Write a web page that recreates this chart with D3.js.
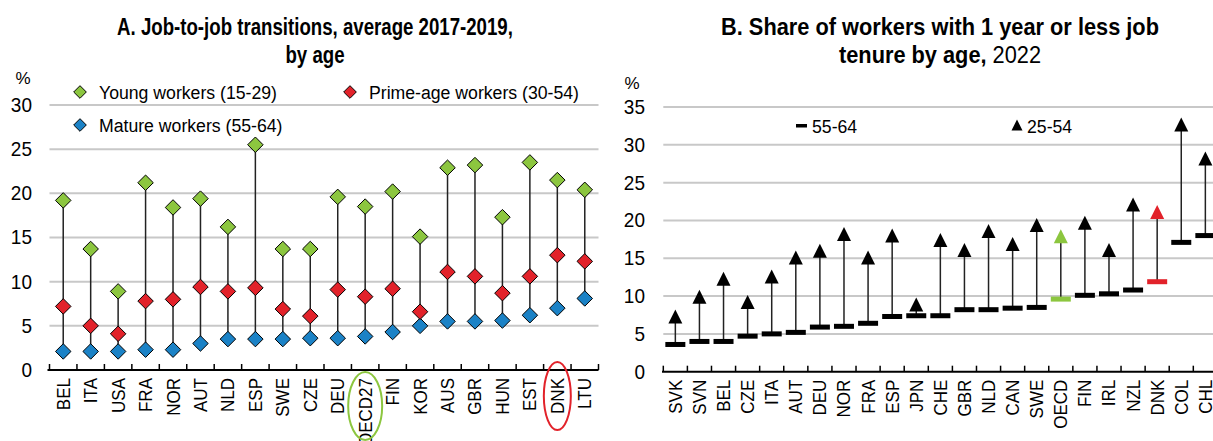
<!DOCTYPE html>
<html lang="en">
<head>
<meta charset="utf-8">
<script src="https://d3js.org/d3.v7.min.js"></script>
<style>
  body { margin: 0; background: #fff; }
  svg text { font-family: "Liberation Sans", Arial, sans-serif; fill: #000; }
</style>
</head>
<body>
<div id="chart"></div>
<script>

// Panel A: job-to-job transitions by age (%)
const catsA = ["BEL","ITA","USA","FRA","NOR","AUT","NLD","ESP","SWE","CZE","DEU","OECD27","FIN","KOR","AUS","GBR","HUN","EST","DNK","LTU"];
const youngA  = [19.2,13.7,8.9,21.2,18.4,19.4,16.2,25.5,13.7,13.7,19.6,18.5,20.2,15.1,22.9,23.2,17.3,23.5,21.5,20.4];
const primeA  = [7.2,5.0,4.1,7.8,8.0,9.4,8.9,9.3,6.9,6.1,9.1,8.3,9.2,6.6,11.1,10.6,8.7,10.6,13.0,12.3];
const matureA = [2.1,2.1,2.1,2.3,2.3,3.0,3.5,3.5,3.5,3.6,3.6,3.8,4.3,5.0,5.5,5.5,5.6,6.2,7.0,8.1];
const ticksA = [0,5,10,15,20,25,30];

// Panel B: share of workers with 1 year or less job tenure (%)
const catsB = ["SVK","SVN","BEL","CZE","ITA","AUT","DEU","NOR","FRA","ESP","JPN","CHE","GBR","NLD","CAN","SWE","OECD","FIN","IRL","NZL","DNK","COL","CHL"];
const olderB = [3.6,4.0,4.0,4.7,5.0,5.2,5.9,6.0,6.4,7.3,7.4,7.4,8.2,8.2,8.4,8.5,9.6,10.1,10.3,10.8,11.9,17.1,18.0];
const primeB = [7.3,9.9,12.3,9.2,12.6,15.1,16.0,18.2,15.1,18.0,8.9,17.4,16.1,18.6,16.9,19.4,17.9,19.7,16.1,22.1,21.1,32.7,28.2];
const ticksB = [0,5,10,15,20,25,30,35];

const green = "#8cc63f", red = "#e2222a", blue = "#1b82c6";

const svg = d3.select("#chart").append("svg")
  .attr("width", 1213).attr("height", 441);

// custom symbols
const diamond = {
  draw(ctx, size) {
    const r = Math.sqrt(size / 2);
    ctx.moveTo(0, -r); ctx.lineTo(r, 0); ctx.lineTo(0, r); ctx.lineTo(-r, 0); ctx.closePath();
  }
};
const triangle = {
  draw(ctx, size) {
    const r = Math.sqrt(size) / 2;
    ctx.moveTo(0, -r); ctx.lineTo(r, r); ctx.lineTo(-r, r); ctx.closePath();
  }
};

// the chart font is a narrow one: squeeze text horizontally
function squeeze(sel, x, y, f) {
  sel.attr("x", 0).attr("y", 0).attr("transform", `translate(${x},${y}) scale(${f},1)`);
}

// title lines, first line squeezed to a target width, second with same factor
function title(g, cx, lines, width) {
  const t1 = g.append("text").attr("text-anchor", "middle")
    .style("font-size", "24px").style("font-weight", "bold").text(lines[0]);
  const f = width / t1.node().getComputedTextLength();
  squeeze(t1, cx, 35, f);
  const t2 = g.append("text").attr("text-anchor", "middle").style("font-size", "24px");
  t2.append("tspan").style("font-weight", "bold").text(lines[1]);
  if (lines[2]) t2.append("tspan").text(lines[2]);
  squeeze(t2, cx, 63, f);
}

// ---------- Panel A ----------
const xA = d3.scaleBand().domain(catsA).range([49.5, 598.5]);
const yA = d3.scaleLinear().domain([0, 30]).range([370, 105]);

const gA = svg.append("g");

gA.append("g").selectAll("line")
  .data(ticksA.filter(d => d > 0))
  .join("line")
    .attr("x1", 49.5).attr("x2", 598.5)
    .attr("y1", d => yA(d)).attr("y2", d => yA(d))
    .attr("stroke", "#c8c8c8").attr("stroke-width", 2);

gA.append("g")
  .attr("transform", "translate(32,0)")
  .call(d3.axisLeft(yA).tickValues(ticksA).tickSize(0).tickPadding(0))
  .call(g => g.select(".domain").remove())
  .call(g => g.selectAll("text").style("font-size", "20px").attr("transform", "scale(0.95,1)"));

gA.append("text").attr("x", 23).attr("y", 84).attr("text-anchor", "middle")
  .style("font-size", "17px").text("%");

// stems
gA.append("g").selectAll("line")
  .data(catsA)
  .join("line")
    .attr("x1", d => xA(d) + xA.bandwidth() / 2).attr("x2", d => xA(d) + xA.bandwidth() / 2)
    .attr("y1", (d, i) => yA(matureA[i])).attr("y2", (d, i) => yA(youngA[i]))
    .attr("stroke", "#222").attr("stroke-width", 1.5);

const seriesA = [
  { name: "Mature workers (55-64)", values: matureA, color: blue },
  { name: "Prime-age workers (30-54)", values: primeA, color: red },
  { name: "Young workers (15-29)", values: youngA, color: green }
];
seriesA.forEach(s => {
  gA.append("g").selectAll("path")
    .data(catsA)
    .join("path")
      .attr("d", d3.symbol(diamond, 120))
      .attr("transform", (d, i) => `translate(${xA(d) + xA.bandwidth() / 2},${yA(s.values[i])})`)
      .attr("fill", s.color).attr("stroke", "#000").attr("stroke-width", 1);
});

// x axis
const axA = gA.append("g").attr("transform", "translate(0,370)");
axA.append("line").attr("x1", 47.5).attr("x2", 598.5).attr("stroke", "#000").attr("stroke-width", 2);
axA.selectAll("line.tk")
  .data(catsA.map(d => xA(d)).concat([xA.range()[1]]))
  .join("line").attr("class", "tk")
    .attr("x1", d => d).attr("x2", d => d).attr("y1", 0).attr("y2", -6)
    .attr("stroke", "#000").attr("stroke-width", 1.5);
axA.selectAll("text.lb")
  .data(catsA)
  .join("text").attr("class", "lb")
    .attr("transform", d => `translate(${xA(d) + xA.bandwidth() / 2},8) rotate(-90) scale(0.92,1)`)
    .attr("text-anchor", "end").attr("dy", "0.35em")
    .style("font-size", "18.5px").text(d => d);

// highlight ellipses
gA.append("ellipse")
  .attr("cx", xA("OECD27") + xA.bandwidth() / 2).attr("cy", 406)
  .attr("rx", 17).attr("ry", 34)
  .attr("fill", "none").attr("stroke", green).attr("stroke-width", 2);
gA.append("ellipse")
  .attr("cx", xA("DNK") + xA.bandwidth() / 2).attr("cy", 396)
  .attr("rx", 13.5).attr("ry", 34)
  .attr("fill", "none").attr("stroke", red).attr("stroke-width", 2);

// legend A
const legA = [
  { name: "Young workers (15-29)", color: green, x: 80, y: 92 },
  { name: "Prime-age workers (30-54)", color: red, x: 350, y: 92 },
  { name: "Mature workers (55-64)", color: blue, x: 80, y: 125 }
];
legA.forEach(l => {
  gA.append("path").attr("d", d3.symbol(diamond, 80))
    .attr("transform", `translate(${l.x},${l.y})`)
    .attr("fill", l.color).attr("stroke", "#000").attr("stroke-width", 1);
  const t = gA.append("text").attr("dy", "0.35em").style("font-size", "19px").text(l.name);
  squeeze(t, l.x + 19, l.y, 0.93);
});

title(gA, 315, ["A. Job-to-job transitions, average 2017-2019,", "by age"], 396);

// ---------- Panel B ----------
const xB = d3.scaleBand().domain(catsB).range([663.3, 1217.4]);
const yB = d3.scaleLinear().domain([0, 35]).range([371.7, 107]);

const gB = svg.append("g");

gB.append("g").selectAll("line")
  .data(ticksB.filter(d => d > 0))
  .join("line")
    .attr("x1", 663.3).attr("x2", 1213)
    .attr("y1", d => yB(d)).attr("y2", d => yB(d))
    .attr("stroke", "#c8c8c8").attr("stroke-width", 2);

gB.append("g")
  .attr("transform", "translate(645,0)")
  .call(d3.axisLeft(yB).tickValues(ticksB).tickSize(0).tickPadding(0))
  .call(g => g.select(".domain").remove())
  .call(g => g.selectAll("text").style("font-size", "20px").attr("transform", "scale(0.95,1)"));

gB.append("text").attr("x", 632).attr("y", 89).attr("text-anchor", "middle")
  .style("font-size", "17px").text("%");

const colorB = d => d === "OECD" ? green : d === "DNK" ? red : "#000";

gB.append("g").selectAll("line")
  .data(catsB)
  .join("line")
    .attr("x1", d => xB(d) + xB.bandwidth() / 2).attr("x2", d => xB(d) + xB.bandwidth() / 2)
    .attr("y1", (d, i) => yB(olderB[i])).attr("y2", (d, i) => yB(primeB[i]))
    .attr("stroke", "#222").attr("stroke-width", 1.5);

gB.append("g").selectAll("rect")
  .data(catsB)
  .join("rect")
    .attr("x", d => xB(d) + xB.bandwidth() / 2 - 10)
    .attr("y", (d, i) => yB(olderB[i]) - 2.5)
    .attr("width", 20).attr("height", 5)
    .attr("fill", d => colorB(d));

gB.append("g").selectAll("path")
  .data(catsB)
  .join("path")
    .attr("d", d3.symbol(triangle, 196))
    .attr("transform", (d, i) => `translate(${xB(d) + xB.bandwidth() / 2},${yB(primeB[i])})`)
    .attr("fill", d => colorB(d));

const axB = gB.append("g").attr("transform", "translate(0,371.7)");
axB.append("line").attr("x1", 662).attr("x2", 1213).attr("stroke", "#000").attr("stroke-width", 2);
axB.selectAll("line.tk")
  .data(catsB.map(d => xB(d)))
  .join("line").attr("class", "tk")
    .attr("x1", d => d).attr("x2", d => d).attr("y1", 0).attr("y2", -6)
    .attr("stroke", "#000").attr("stroke-width", 1.5);
axB.selectAll("text.lb")
  .data(catsB)
  .join("text").attr("class", "lb")
    .attr("transform", d => `translate(${xB(d) + xB.bandwidth() / 2},8) rotate(-90) scale(0.92,1)`)
    .attr("text-anchor", "end").attr("dy", "0.35em")
    .style("font-size", "18.5px").text(d => d);

// legend B
gB.append("rect").attr("x", 796).attr("y", 124).attr("width", 11).attr("height", 3.5).attr("fill", "#000");
const lb1 = gB.append("text").attr("dy", "0.35em").style("font-size", "19px").text("55-64");
squeeze(lb1, 812, 126, 0.93);
gB.append("path").attr("d", d3.symbol(triangle, 121))
  .attr("transform", "translate(1017,125)").attr("fill", "#000");
const lb2 = gB.append("text").attr("dy", "0.35em").style("font-size", "19px").text("25-54");
squeeze(lb2, 1027, 126, 0.93);

title(gB, 940, ["B. Share of workers with 1 year or less job", "tenure by age, ", "2022"], 438);

</script>
</body>
</html>
